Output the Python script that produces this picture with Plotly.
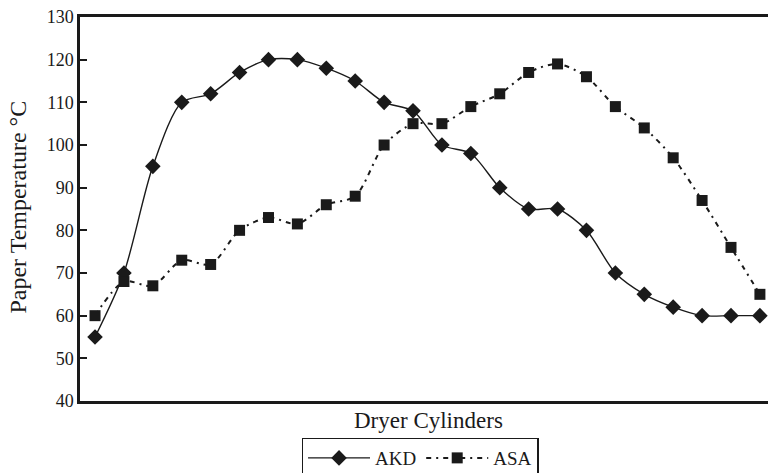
import plotly.graph_objects as go

# Paper temperature along the dryer section for two sizing agents
cylinders = list(range(1, 25))
akd = [55, 70, 95, 110, 112, 117, 120, 120, 118, 115, 110, 108,
       100, 98, 90, 85, 85, 80, 70, 65, 62, 60, 60, 60]
asa = [60, 68, 67, 73, 72, 80, 83, 81.5, 86, 88, 100, 105,
       105, 109, 112, 117, 119, 116, 109, 104, 97, 87, 76, 65]
y_ticks = [40, 50, 60, 70, 80, 90, 100, 110, 120, 130]

FONT = "Liberation Serif, Times New Roman, serif"
INK = "#1a1a1a"

fig = go.Figure()
fig.add_trace(go.Scatter(
    x=cylinders, y=akd, name="AKD", mode="lines+markers",
    line=dict(color=INK, width=1.4, shape="spline", smoothing=0.8),
    marker=dict(symbol="diamond", size=12, color=INK),
))
fig.add_trace(go.Scatter(
    x=cylinders, y=asa, name="ASA", mode="lines+markers",
    line=dict(color=INK, width=2, shape="spline", smoothing=0.8,
              dash="5px,5px,2px,5px"),
    marker=dict(symbol="square", size=11, color=INK),
))

fig.update_layout(
    width=768, height=473,
    margin=dict(l=80, r=0, t=17, b=72),
    paper_bgcolor="white", plot_bgcolor="white",
    font=dict(family=FONT, size=18, color=INK),
    showlegend=True,
    legend=dict(
        orientation="h", x=0.322, xanchor="left",
        yref="container", y=0.075, yanchor="top",
        bordercolor=INK, borderwidth=1.5, bgcolor="white",
        font=dict(family=FONT, size=19, color=INK),
        itemwidth=62, tracegroupgap=0,
    ),
    xaxis=dict(
        range=[0.48, 24.28], showticklabels=False, ticks="",
        showgrid=False, zeroline=False,
        showline=True, linecolor=INK, linewidth=2.5, mirror=True,
    ),
    yaxis=dict(
        range=[40, 130], tickvals=y_ticks, ticks="inside", ticklen=7,
        tickwidth=1.5, tickcolor=INK, showgrid=False, zeroline=False,
        showline=True, linecolor=INK, linewidth=2.5,
        tickfont=dict(family=FONT, size=18, color=INK),
    ),
    annotations=[
        dict(text="Dryer Cylinders", xref="paper", yref="paper",
             x=0.5065, y=-0.052, xanchor="center", yanchor="middle",
             showarrow=False, font=dict(family=FONT, size=23, color=INK)),
        dict(text="Paper Temperature °C", xref="paper", yref="paper",
             x=-0.09, y=0.504, xanchor="center", yanchor="middle",
             textangle=-90, showarrow=False,
             font=dict(family=FONT, size=24, color=INK)),
    ],
)

fig.write_html("out.html")
